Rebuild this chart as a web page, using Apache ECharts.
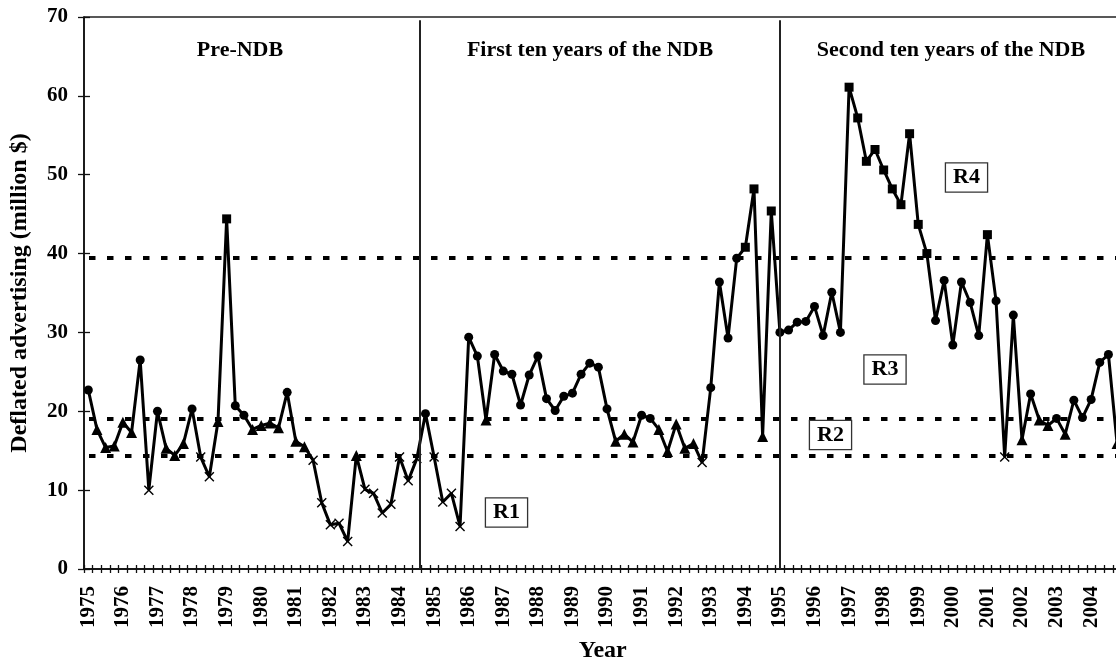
<!DOCTYPE html>
<html>
<head>
<meta charset="utf-8">
<title>Deflated advertising</title>
<script src="https://cdn.jsdelivr.net/npm/echarts@6/dist/echarts.min.js"></script>
<style>
html, body { margin: 0; padding: 0; background: #fff; }
#main { width: 1116px; height: 665px; }
</style>
</head>
<body>
<div id="main"></div>
<script>
// quarterly series, 1975 Q1 - 2004 Q4
var years = [1975, 1976, 1977, 1978, 1979, 1980, 1981, 1982, 1983, 1984,
	1985, 1986, 1987, 1988, 1989, 1990, 1991, 1992, 1993, 1994,
	1995, 1996, 1997, 1998, 1999, 2000, 2001, 2002, 2003, 2004];

var advertising = [
	22.7, 17.7, 15.4, 15.6, 18.6, 17.3, 26.5, 10.0, 20.0, 15.3,
	14.4, 15.9, 20.3, 14.2, 11.7, 18.7, 44.4, 20.7, 19.5, 17.7,
	18.2, 18.5, 17.9, 22.4, 16.2, 15.5, 13.8, 8.4, 5.6, 5.8,
	3.5, 14.4, 10.1, 9.6, 7.1, 8.2, 14.2, 11.2, 14.0, 19.7,
	14.2, 8.5, 9.6, 5.4, 29.4, 27.0, 18.9, 27.2, 25.1, 24.7,
	20.8, 24.6, 27.0, 21.6, 20.1, 21.9, 22.3, 24.7, 26.1, 25.6,
	20.3, 16.2, 17.1, 16.1, 19.5, 19.1, 17.7, 14.9, 18.4, 15.3,
	15.9, 13.5, 23.0, 36.4, 29.3, 39.4, 40.8, 48.2, 16.8, 45.4,
	30.0, 30.3, 31.3, 31.4, 33.3, 29.6, 35.1, 30.0, 61.1, 57.2,
	51.7, 53.2, 50.6, 48.2, 46.2, 55.2, 43.7, 40.0, 31.5, 36.6,
	28.4, 36.4, 33.8, 29.6, 42.4, 34.0, 14.2, 32.2, 16.4, 22.2,
	18.9, 18.2, 19.1, 17.1, 21.4, 19.2, 21.5, 26.2, 27.2, 15.9
];

// regime thresholds (R1 | R2 | R3 | R4)
var regimeBreaks = [14.3, 19.0, 39.5];
var regimeLabels = ['R1', 'R2', 'R3', 'R4'];
// period dividers, in quarters from 1975 Q1
var periodLines = [38.8, 80.5];
var periodTitles = ['Pre-NDB', 'First ten years of the NDB', 'Second ten years of the NDB'];

var quarters = [];
for (var i = 0; i < years.length; i++) {
	for (var q = 1; q <= 4; q++) {
		quarters.push(years[i] + ' Q' + q);
	}
}

var crossPath = 'path://M0,1L1,0L5,4L9,0L10,1L6,5L10,9L9,10L5,6L1,10L0,9L4,5Z';
var regimeSymbols = [
	{symbol: crossPath, size: 10},
	{symbol: 'triangle', size: 11},
	{symbol: 'circle', size: 9},
	{symbol: 'rect', size: 9}
];

function regimeOf(v) {
	var r = 0;
	while (r < regimeBreaks.length && v >= regimeBreaks[r]) r++;
	return r;
}

var lineData = advertising.map(function (v) {
	var s = regimeSymbols[regimeOf(v)];
	return {value: v, symbol: s.symbol, symbolSize: s.size};
});

var font = 'Liberation Serif';
var plotW = quarters.length * 8.645;
var tickStyle = {color: '#111', width: 1.3};

var option = {
	animation: false,
	backgroundColor: '#fff',
	grid: {
		left: 84,
		top: 17,
		width: plotW,
		height: 552,
		show: true,
		borderColor: '#222',
		borderWidth: 1.3,
		outerBoundsMode: 'none'
	},
	xAxis: [
		{
			type: 'category',
			data: quarters,
			boundaryGap: true,
			name: 'Year',
			nameLocation: 'middle',
			nameGap: 70,
			nameTextStyle: {fontFamily: font, fontWeight: 'bold', fontSize: 24, color: '#000'},
			axisLine: {show: true, lineStyle: {color: '#000', width: 1.5}},
			axisTick: {show: true, interval: 0, length: 4, lineStyle: tickStyle},
			axisLabel: {
				interval: 3,
				rotate: 90,
				margin: 17,
				fontFamily: font,
				fontWeight: 'bold',
				fontSize: 21,
				color: '#000',
				formatter: function (val) {
					return val.slice(0, 4);
				}
			},
			splitLine: {show: false}
		},
		{
			// inner half of the crossing ticks
			type: 'category',
			data: quarters,
			boundaryGap: true,
			position: 'bottom',
			axisLine: {show: false},
			axisTick: {show: true, inside: true, interval: 0, length: 4, lineStyle: tickStyle},
			axisLabel: {show: false},
			splitLine: {show: false}
		},
		{
			type: 'value',
			min: 0,
			max: quarters.length,
			show: false
		}
	],
	yAxis: [
		{
			type: 'value',
			min: 0,
			max: 70,
			interval: 10,
			name: 'Deflated advertising (million $)',
			nameLocation: 'middle',
			nameGap: 52,
			nameTextStyle: {fontFamily: font, fontWeight: 'bold', fontSize: 24, color: '#000'},
			axisLine: {show: true, lineStyle: {color: '#000', width: 1.5}},
			axisTick: {show: true, length: 6, lineStyle: tickStyle},
			axisLabel: {margin: 16, fontFamily: font, fontWeight: 'bold', fontSize: 21, color: '#000'},
			splitLine: {show: false}
		},
		{
			type: 'value',
			min: 0,
			max: 70,
			interval: 10,
			position: 'left',
			axisLine: {show: false},
			axisTick: {show: true, inside: true, length: 6, lineStyle: tickStyle},
			axisLabel: {show: false},
			splitLine: {show: false}
		}
	],
	series: [
		{
			type: 'line',
			data: lineData,
			xAxisIndex: 0,
			yAxisIndex: 0,
			showAllSymbol: true,
			lineStyle: {color: '#000', width: 3},
			itemStyle: {color: '#000'},
			emphasis: {disabled: true},
			z: 3,
			markLine: {
				silent: true,
				symbol: 'none',
				label: {show: false},
				lineStyle: {color: '#000', width: 4, type: [6.5, 11.5], dashOffset: 13},
				data: regimeBreaks.map(function (b) {
					return {yAxis: b};
				})
			}
		},
		{
			// period dividers
			type: 'line',
			data: [],
			xAxisIndex: 2,
			yAxisIndex: 0,
			markLine: {
				silent: true,
				symbol: 'none',
				label: {show: false},
				lineStyle: {color: '#222', width: 2, type: 'solid'},
				data: periodLines.map(function (p) {
					return [{coord: [p, 0]}, {coord: [p, 69.6]}];
				})
			}
		}
	],
	graphic: [
		{type: 'text', x: 240, y: 50, style: {text: periodTitles[0], font: 'bold 22px "Liberation Serif"', fill: '#000', align: 'center', verticalAlign: 'middle', textAlign: 'center', textVerticalAlign: 'middle'}},
		{type: 'text', x: 590, y: 50, style: {text: periodTitles[1], font: 'bold 22px "Liberation Serif"', fill: '#000', align: 'center', verticalAlign: 'middle', textAlign: 'center', textVerticalAlign: 'middle'}},
		{type: 'text', x: 951, y: 50, style: {text: periodTitles[2], font: 'bold 22px "Liberation Serif"', fill: '#000', align: 'center', verticalAlign: 'middle', textAlign: 'center', textVerticalAlign: 'middle'}}
	].concat([[506.5, 512.5], [830.5, 435], [885, 369.5], [966.5, 177.5]].map(function (pos, k) {
		return {
			type: 'text',
			x: pos[0],
			y: pos[1],
			z: 10,
			style: {
				text: regimeLabels[k],
				font: 'bold 22px "Liberation Serif"',
				fill: '#000',
				align: 'center',
				verticalAlign: 'middle',
				textAlign: 'center',
				textVerticalAlign: 'middle',
				backgroundColor: '#fff',
				borderColor: '#333',
				borderWidth: 1.3,
				padding: [3, 7, 3, 7]
			}
		};
	}))
};

var chart = echarts.init(document.getElementById('main'));
chart.setOption(option);
</script>
</body>
</html>
